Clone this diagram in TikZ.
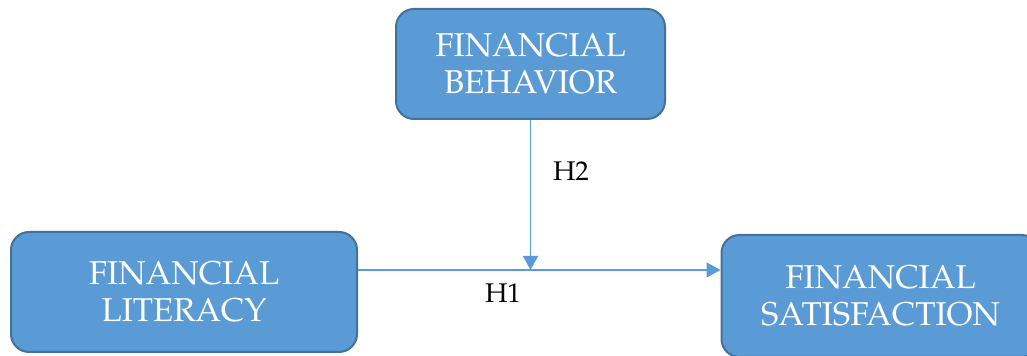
\documentclass[tikz,border=0pt]{standalone}
\usepackage[T1]{fontenc}
\usepackage{mathpazo}
\usetikzlibrary{arrows.meta}
\definecolor{boxfill}{HTML}{5B9BD5}
\definecolor{boxline}{HTML}{41719C}
\tikzset{
  varbox/.style={draw=boxline, line width=1pt, fill=boxfill, rounded corners=9pt,
    text=white, align=center, font=\fontsize{16.5}{18.5}\selectfont, inner sep=0pt},
  link/.style={draw=boxfill, line width=0.7pt, -{Triangle[length=7pt,width=7.5pt]}},
  hyp/.style={font=\fontsize{13.5}{15}\selectfont}
}
\begin{document}
\begin{tikzpicture}[x=0.5pt,y=-0.5pt]
\useasboundingbox (0,0) rectangle (1027,356);
\node[varbox, minimum width=134.5pt, minimum height=55pt] (behav) at (530.5,64) {FINANCIAL\\BEHAVIOR};
\node[varbox, minimum width=173pt, minimum height=60pt] (lit) at (184,292) {FINANCIAL\\LITERACY};
\node[varbox, minimum width=159pt, minimum height=61pt] (satis) at (880.5,296) {FINANCIAL\\SATISFACTION};
\coordinate (meet) at (530.5,270);
\draw[link] (lit.east |- meet) -- (satis.west |- meet);
\draw[link] (behav.south) -- (meet);
\node[hyp] (h2) at (571,171) {H2};
\node[hyp] (h1) at (503,293) {H1};
\end{tikzpicture}
\end{document}
